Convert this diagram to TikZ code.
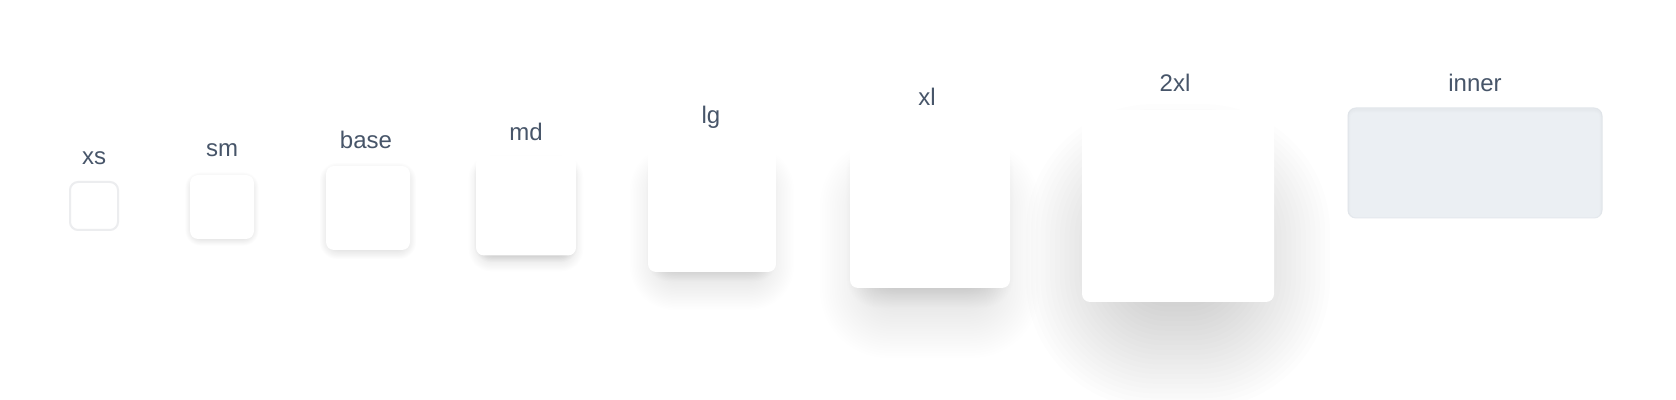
\documentclass[tikz,border=0pt]{standalone}
\usepackage{fontspec}
\setmainfont{Liberation Sans}
\usetikzlibrary{positioning}

\definecolor{labelgray}{RGB}{71,85,105}
\definecolor{xsline}{RGB}{236,237,239}
\definecolor{innerfill}{RGB}{235,239,243}
\definecolor{inneredge}{RGB}{230,234,239}

% left, top, right, bottom, drop, blur, spread, strength (all in px)
\newcommand\softshadow[8]{%
  \foreach \k in {0,...,29}{
    \pgfmathsetmacro\e{#7-0.6*#6+1.4*#6*\k/29}
    \pgfmathsetmacro\rc{max(0.5,min(0.5*(#3-#1)+\e-0.5,8+1.2*#6*\k/29))*0.5}
    \pgfmathsetmacro\op{#8/30}
    \fill[black,opacity=\op,rounded corners=\rc pt]
      ({#1-\e},{#2+#5-\e}) rectangle ({#3+\e},{#4+#5+\e});
  }}

\tikzset{
  card/.style={fill=white,rounded corners=4pt,inner sep=0pt},
  tag/.style={text=labelgray,font=\fontsize{12}{14}\selectfont,anchor=base}
}

\begin{document}
\begin{tikzpicture}[x=0.5pt,y=-0.5pt]
\fill[white] (0,0) rectangle (1676,400);
\useasboundingbox (0,0) rectangle (1676,400);

% shadows first
\softshadow{69}{181}{119}{231}{2}{4}{0}{0.04}
\softshadow{190}{175}{254}{239}{2}{6}{0}{0.07}
\softshadow{326}{166}{410}{250}{3}{8}{0}{0.15}
\softshadow{476}{155}{576}{256}{8}{12}{-2}{0.12}
\softshadow{476}{155}{576}{256}{4}{8}{-4}{0.08}
\softshadow{648}{144}{776}{272}{20}{30}{-6}{0.12}
\softshadow{648}{144}{776}{272}{8}{12}{-8}{0.08}
\softshadow{850}{128}{1010}{288}{40}{50}{-10}{0.13}
\softshadow{850}{128}{1010}{288}{16}{20}{-12}{0.08}
\softshadow{1082}{110}{1274}{302}{50}{100}{-24}{0.26}

% cards
\node[card,draw=xsline,line width=1pt,minimum width=24pt,minimum height=24pt] (xs) at (94,206) {};
\node[card,minimum width=32pt,minimum height=32pt] (sm) at (222,207) {};
\node[card,minimum width=42pt,minimum height=42pt] (base) at (368,208) {};
\node[card,minimum width=50pt,minimum height=50pt] (md) at (526,205.5) {};
\node[card,minimum width=64pt,minimum height=64pt] (lg) at (712,208) {};
\node[card,minimum width=80pt,minimum height=80pt] (xl) at (930,208) {};
\node[card,minimum width=96pt,minimum height=96pt] (2xl) at (1178,206) {};
\node[card,fill=innerfill,draw=inneredge,line width=0.5pt,minimum width=127pt,minimum height=55pt] (inner) at (1475,163) {};

% inset look of the last card
\begin{scope}
\clip[rounded corners=4pt] (inner.south west) rectangle (inner.north east);
\foreach \w in {2,4,6}
  \draw[black,opacity=0.008,line width=\w*0.5pt,rounded corners=4pt]
    ([yshift=-1pt]inner.south west) rectangle ([yshift=-1pt]inner.north east);
\end{scope}

% labels
\node[tag] (xs label) at (94,165) {xs};
\node[tag] (sm label) at (222,156.5) {sm};
\node[tag] (base label) at (366,149) {base};
\node[tag] (md label) at (526,141) {md};
\node[tag] (lg label) at (711,124) {lg};
\node[tag] (xl label) at (927,106) {xl};
\node[tag] (2xl label) at (1175,92) {2xl};
\node[tag] (inner label) at (1475,92) {inner};
\end{tikzpicture}
\end{document}
